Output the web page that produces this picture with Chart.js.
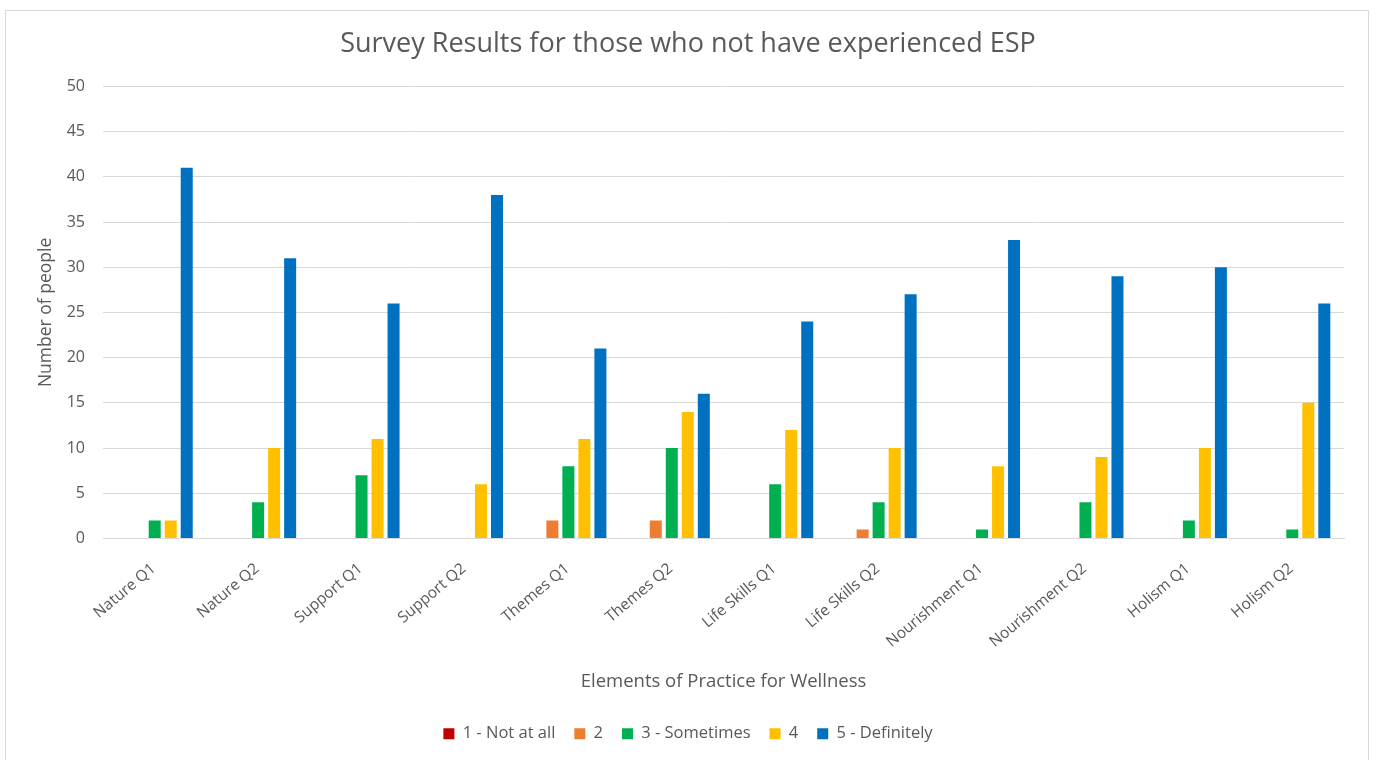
<!DOCTYPE html>
<html><head><meta charset="utf-8">
<script src="https://cdn.jsdelivr.net/npm/chart.js@4/dist/chart.umd.min.js"></script>
<style>
html,body{margin:0;padding:0;background:#fff;}
#wrap{position:relative;width:1376px;height:760px;overflow:hidden;}
#frame{position:absolute;left:5px;top:10px;width:1364px;height:770px;border:1px solid #d9d9d9;box-sizing:border-box;}
#c{position:absolute;left:0;top:0;}
</style></head>
<body><div id="wrap"><div id="frame"></div><canvas id="c" width="1376" height="760"></canvas></div>
<script>
const categories = ["Nature Q1","Nature Q2","Support Q1","Support Q2","Themes Q1","Themes Q2","Life Skills Q1","Life Skills Q2","Nourishment Q1","Nourishment Q2","Holism Q1","Holism Q2"];
const seriesNames = ["1 - Not at all","2","3 - Sometimes","4","5 - Definitely"];
const notAtAll   = [0,0,0,0,0,0,0,0,0,0,0,0];
const two        = [0,0,0,0,2,2,0,1,0,0,0,0];
const sometimes  = [2,4,7,0,8,10,6,4,1,4,2,1];
const four       = [2,10,11,6,11,14,12,10,8,9,10,15];
const definitely = [41,31,26,38,21,16,24,27,33,29,30,26];
const colors = ["#C00000","#ED7D31","#00B050","#FFC000","#0070C0"];
const yTicks = [0,5,10,15,20,25,30,35,40,45,50];

const FONT = "'Open Sans', sans-serif";
const TXT = "#595959";
const allData = [notAtAll,two,sometimes,four,definitely];

new Chart(document.getElementById('c'), {
  type: 'bar',
  data: {
    labels: categories,
    datasets: allData.map((d,i)=>({
      label: seriesNames[i], data: d, backgroundColor: colors[i],
      borderWidth: 0, yAxisID: 'y',
      categoryPercentage: 0.774, barPercentage: 0.75
    }))
  },
  options: {
    responsive: false, animation: false,
    layout: { padding: { left: 0, right: 0, top: 0, bottom: 8 } },
    plugins: {
      title: { display: true, text: "Survey Results for those who not have experienced ESP",
        color: TXT, font: { family: FONT, size: 27, weight: 'normal' },
        padding: { top: 28, bottom: 26 } },
      legend: { position: 'bottom',
        labels: { color: TXT, font: { family: FONT, size: 16.5 }, boxWidth: 11, boxHeight: 11, padding: 19 } },
      tooltip: { enabled: false }
    },
    scales: {
      x: {
        grid: { display: false, drawTicks: false },
        border: { display: true, color: "#d9d9d9", width: 1 },
        ticks: { color: TXT, font: { family: FONT, size: 15.5 }, minRotation: 40, maxRotation: 40, padding: 21, labelOffset: -1, autoSkip: false },
        title: { display: true, text: "Elements of Practice for Wellness", color: TXT,
          font: { family: FONT, size: 18.5 }, padding: { top: 0, bottom: 14 } },
        afterFit: (s) => { s.height = 168; }
      },
      y: {
        position: 'left',
        min: 0, max: 50,
        afterBuildTicks: (s) => { s.ticks = yTicks.map(v => ({ value: v })); },
        grid: { color: "#d9d9d9", drawTicks: false },
        border: { display: false },
        ticks: { color: TXT, font: { family: FONT, size: 16 }, padding: 18 },
        title: { display: true, text: "Number of people", color: TXT,
          font: { family: FONT, size: 17.5 }, padding: { top: 36, bottom: 0 } },
        afterFit: (s) => { s.width = 103; }
      },
      yRight: {
        type: 'linear', position: 'right', display: true,
        grid: { display: false, drawTicks: false },
        border: { display: false },
        ticks: { display: false },
        afterFit: (s) => { s.width = 32; }
      }
    }
  }
});
</script></body></html>
